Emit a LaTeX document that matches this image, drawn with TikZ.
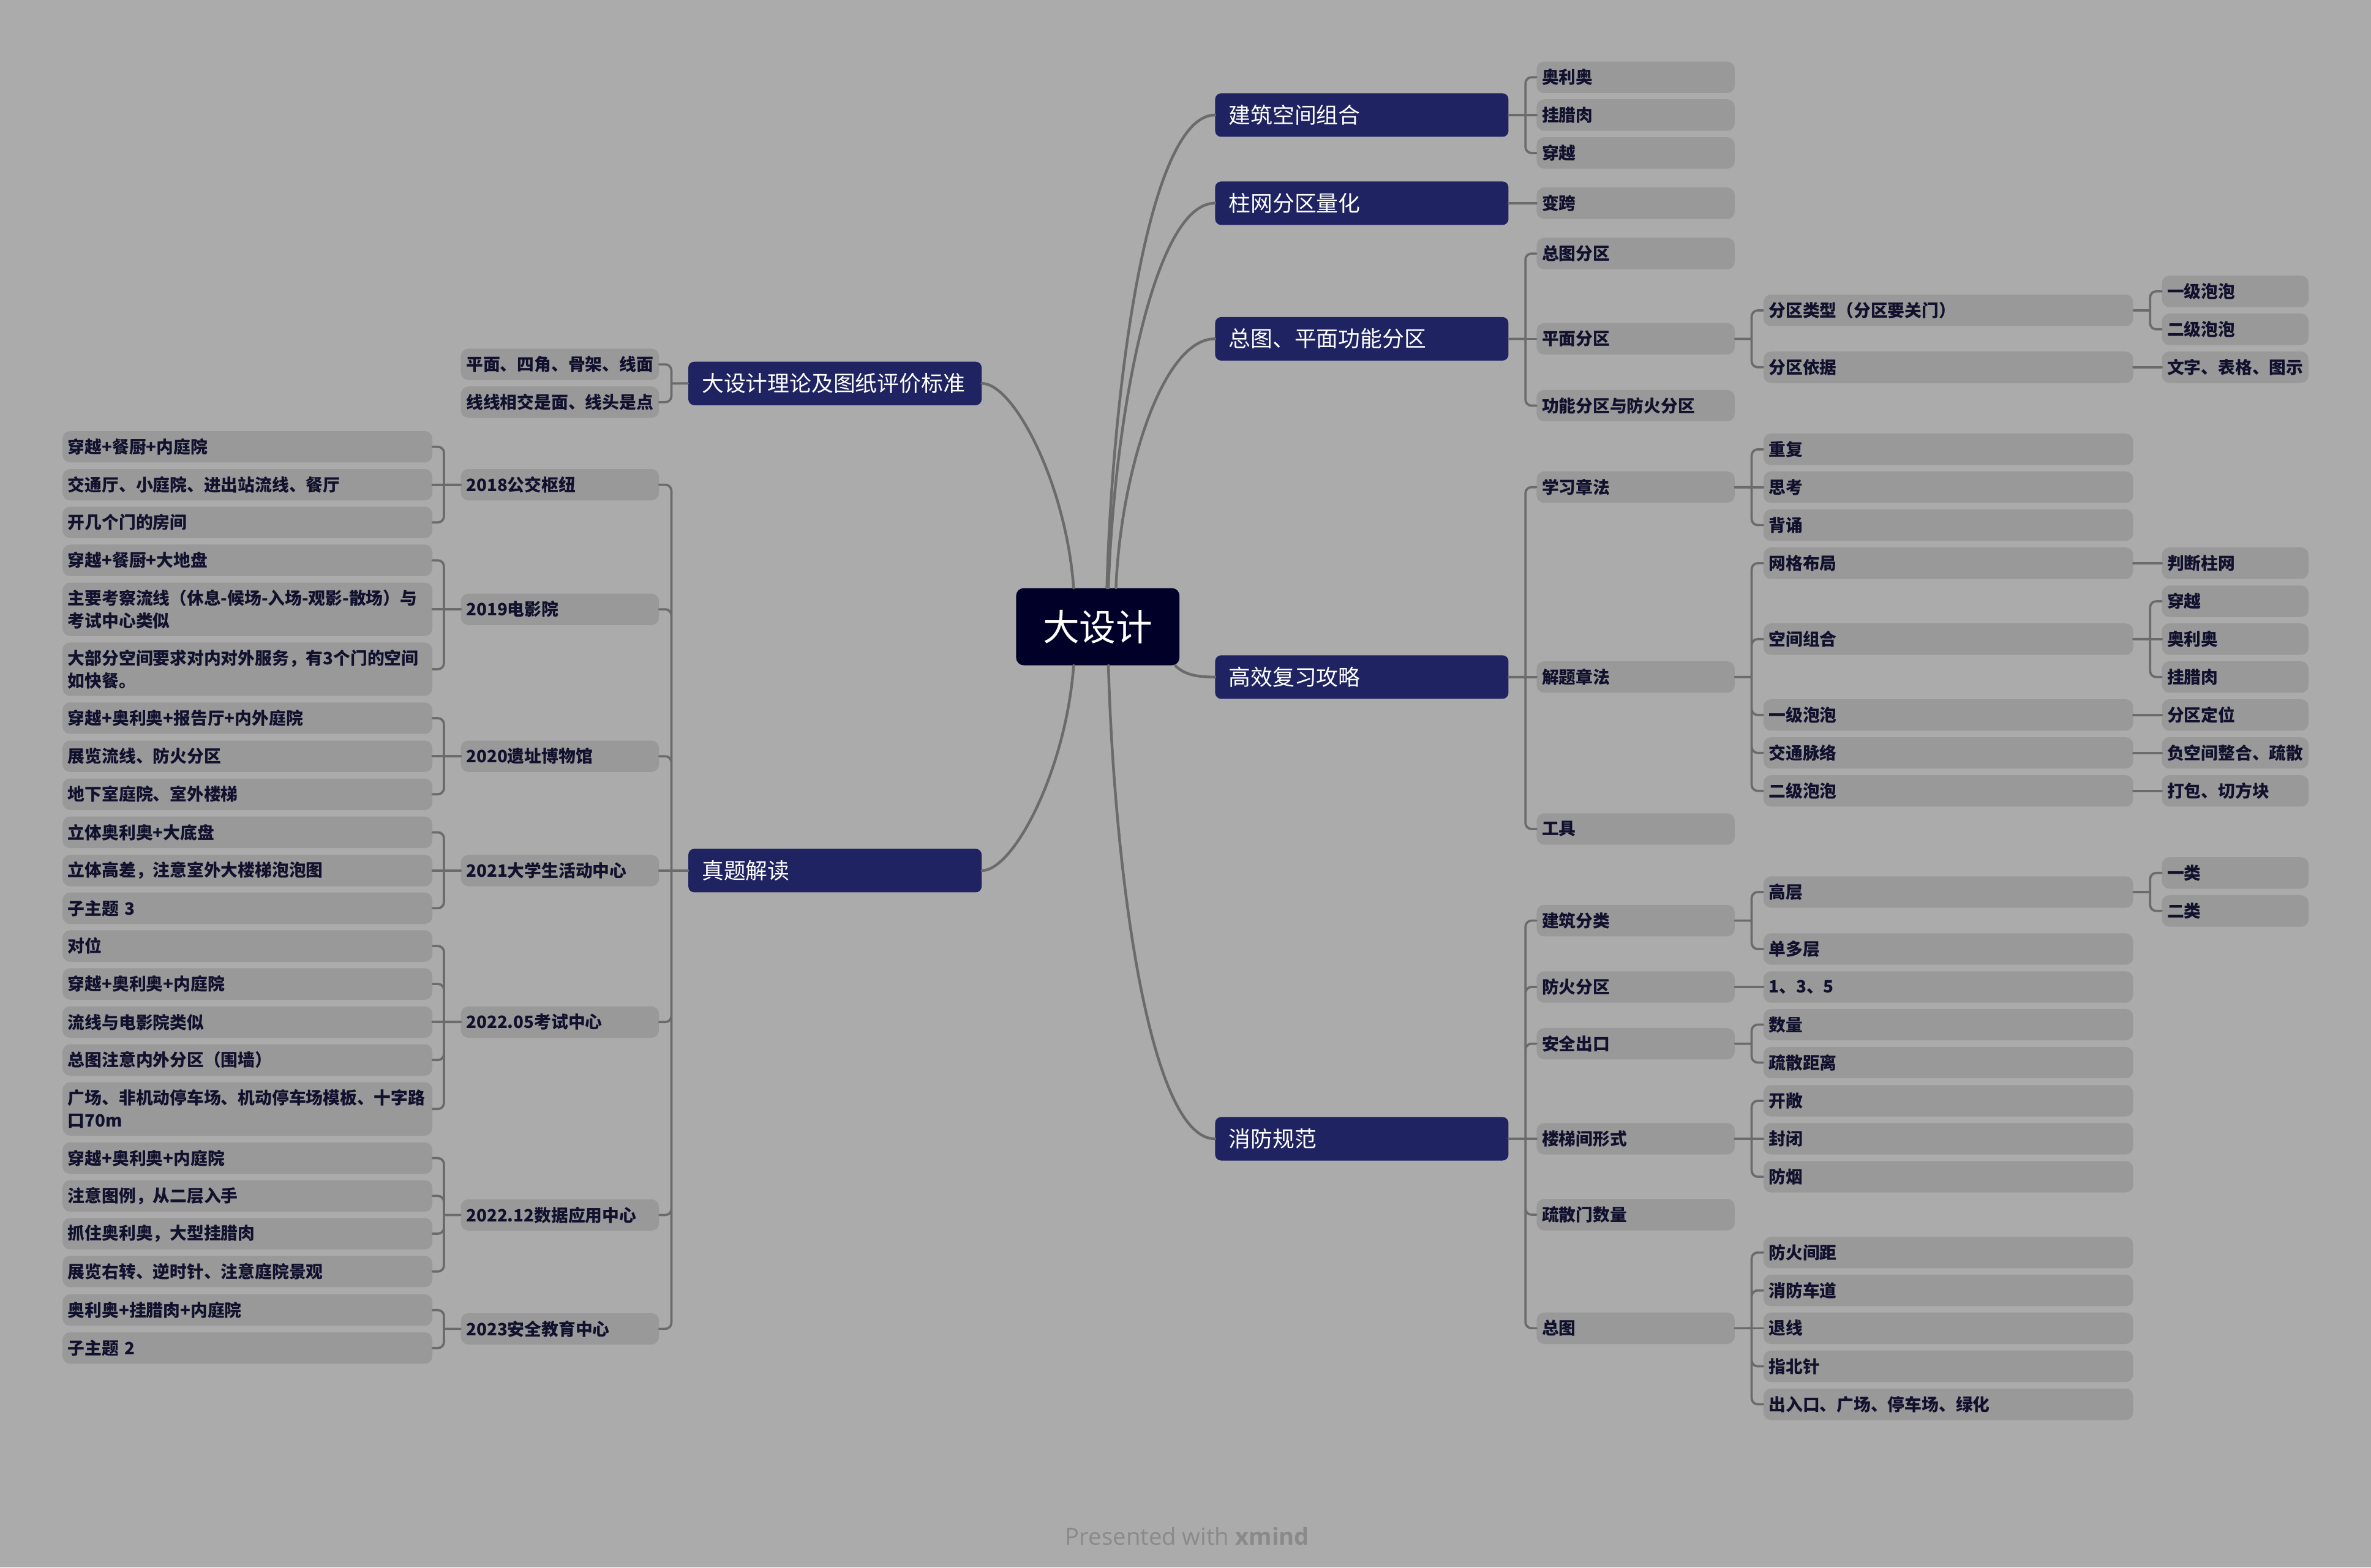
\documentclass[tikz,border=0pt]{standalone}
\usepackage{fontspec}
\setmainfont{Noto Sans CJK SC}
\newfontfamily\markfont{Open Sans}
\definecolor{mmBack}{HTML}{ABABAB}
\definecolor{mmBox}{HTML}{999999}
\definecolor{mmLine}{HTML}{6B6B6B}
\definecolor{mmTopic}{HTML}{1F2362}
\definecolor{mmRoot}{HTML}{000028}
\definecolor{mmInk}{HTML}{11112E}
\definecolor{mmMark}{HTML}{8A8A8A}
\tikzset{
 mind/.style={line cap=round,line join=round},
 root/.style={rectangle,rounded corners=5pt,fill=mmRoot,text=white,minimum width=108pt,minimum height=51pt,inner sep=0pt,font=\fontsize{24.2}{28}\selectfont},
 topic/.style={rectangle,rounded corners=4pt,fill=mmTopic,text=white,anchor=west,inner xsep=9pt,inner ysep=0pt,text width=176pt,minimum height=28.8pt,align=left,font=\fontsize{14.5}{17}\selectfont},
 leaf/.style={rectangle,rounded corners=5pt,fill=mmBox,text=mmInk,anchor=west,inner xsep=3.5pt,inner ysep=0pt,minimum height=20.8pt,align=left,font=\bfseries\fontsize{11.25}{15}\selectfont},
 leafB/.style={leaf,text width=124pt},
 leafC/.style={leaf,text width=237.5pt},
 leafD/.style={leaf,text width=90pt},
 tall/.style={minimum height=35.3pt},
 link/.style={draw=mmLine,line width=1.5pt,rounded corners=4pt},
 trunk/.style={draw=mmLine,line width=1.8pt},
 forkR/.style={link,to path={-- ++(11,0) (\tikztostart) ++(11,0) |- (\tikztotarget)}},
 forkL/.style={link,to path={-- ++(-11,0) (\tikztostart) ++(-11,0) |- (\tikztotarget)}},
 footer/.style={font=\markfont\fontsize{15.5}{18}\selectfont,text=mmMark,inner sep=0pt}
}

\begin{document}
\begin{tikzpicture}[mind,x=1pt,y=-1pt]
 \fill[mmBack] (0,0) rectangle (1568,1036.8);
 \node[root] (dsj) at (726,414.5) {大设计};
 \node[topic] (jz) at (803.4,76.1) {建筑空间组合};
 \node[topic] (zw) at (803.4,134.4) {柱网分区量化};
 \node[topic] (zp) at (803.4,224.1) {总图、平面功能分区};
 \node[topic] (gx) at (803.4,447.8) {高效复习攻略};
 \node[topic] (xf) at (803.4,753.2) {消防规范};
 \node[topic] (ll) at (455,253.6) {大设计理论及图纸评价标准};
 \node[topic] (zj) at (455,575.8) {真题解读};

 \node[leafB] (jz1) at (1016,51.1) {奥利奥};
 \node[leafB] (jz2) at (1016,76.1) {挂腊肉};
 \node[leafB] (jz3) at (1016,101.2) {穿越};
 \node[leafB] (zw1) at (1016,134.4) {变跨};
 \node[leafB] (zp1) at (1016,167.7) {总图分区};
 \node[leafB] (zp2) at (1016,224.1) {平面分区};
 \node[leafB] (zp3) at (1016,268.3) {功能分区与防火分区};
 \node[leafB] (gx1) at (1016,322.2) {学习章法};
 \node[leafB] (gx2) at (1016,447.8) {解题章法};
 \node[leafB] (gx3) at (1016,548.3) {工具};
 \node[leafB] (xf1) at (1016,608.9) {建筑分类};
 \node[leafB] (xf2) at (1016,652.8) {防火分区};
 \node[leafB] (xf3) at (1016,690.3) {安全出口};
 \node[leafB] (xf4) at (1016,753.2) {楼梯间形式};
 \node[leafB] (xf5) at (1016,803.4) {疏散门数量};
 \node[leafB] (xf6) at (1016,878.5) {总图};

 \node[leafC] (zp2a) at (1166,205.3) {分区类型（分区要关门）};
 \node[leafC] (zp2b) at (1166,242.9) {分区依据};
 \node[leafC] (gx1a) at (1166,297.2) {重复};
 \node[leafC] (gx1b) at (1166,322.2) {思考};
 \node[leafC] (gx1c) at (1166,347.3) {背诵};
 \node[leafC] (gx2a) at (1166,372.5) {网格布局};
 \node[leafC] (gx2b) at (1166,422.7) {空间组合};
 \node[leafC] (gx2c) at (1166,472.9) {一级泡泡};
 \node[leafC] (gx2d) at (1166,498) {交通脉络};
 \node[leafC] (gx2e) at (1166,523.1) {二级泡泡};
 \node[leafC] (xf1a) at (1166,590) {高层};
 \node[leafC] (xf1b) at (1166,627.7) {单多层};
 \node[leafC] (xf2a) at (1166,652.8) {1、3、5};
 \node[leafC] (xf3a) at (1166,677.7) {数量};
 \node[leafC] (xf3b) at (1166,702.8) {疏散距离};
 \node[leafC] (xf4a) at (1166,728.1) {开敞};
 \node[leafC] (xf4b) at (1166,753.2) {封闭};
 \node[leafC] (xf4c) at (1166,778.3) {防烟};
 \node[leafC] (xf6a) at (1166,828.4) {防火间距};
 \node[leafC] (xf6b) at (1166,853.5) {消防车道};
 \node[leafC] (xf6c) at (1166,878.5) {退线};
 \node[leafC] (xf6d) at (1166,903.7) {指北针};
 \node[leafC] (xf6e) at (1166,928.8) {出入口、广场、停车场、绿化};

 \node[leafD] (zp2a1) at (1429.5,192.7) {一级泡泡};
 \node[leafD] (zp2a2) at (1429.5,217.8) {二级泡泡};
 \node[leafD] (zp2b1) at (1429.5,242.9) {文字、表格、图示};
 \node[leafD] (gx2a1) at (1429.5,372.5) {判断柱网};
 \node[leafD] (gx2b1) at (1429.5,397.7) {穿越};
 \node[leafD] (gx2b2) at (1429.5,422.7) {奥利奥};
 \node[leafD] (gx2b3) at (1429.5,447.8) {挂腊肉};
 \node[leafD] (gx2c1) at (1429.5,472.9) {分区定位};
 \node[leafD] (gx2d1) at (1429.5,498) {负空间整合、疏散};
 \node[leafD] (gx2e1) at (1429.5,523.1) {打包、切方块};
 \node[leafD] (xf1a1) at (1429.5,577.4) {一类};
 \node[leafD] (xf1a2) at (1429.5,602.5) {二类};

 \node[leafB] (ll1) at (304.6,241) {平面、四角、骨架、线面};
 \node[leafB] (ll2) at (304.6,266) {线线相交是面、线头是点};
 \node[leafB] (zj1) at (304.6,320.6) {2018公交枢纽};
 \node[leafB] (zj2) at (304.6,403) {2019电影院};
 \node[leafB] (zj3) at (304.6,500.2) {2020遗址博物馆};
 \node[leafB] (zj4) at (304.6,575.8) {2021大学生活动中心};
 \node[leafB] (zj5) at (304.6,676) {2022.05考试中心};
 \node[leafB] (zj6) at (304.6,803.6) {2022.12数据应用中心};
 \node[leafB] (zj7) at (304.6,878.9) {2023安全教育中心};

 \node[leafC] (zj1a) at (41.2,295.5) {穿越+餐厨+内庭院};
 \node[leafC] (zj1b) at (41.2,320.6) {交通厅、小庭院、进出站流线、餐厅};
 \node[leafC] (zj1c) at (41.2,345.5) {开几个门的房间};
 \node[leafC] (zj2a) at (41.2,370.6) {穿越+餐厨+大地盘};
 \node[leafC,tall] (zj2b) at (41.2,403) {主要考察流线（休息-候场-入场-观影-散场）与\\考试中心类似};
 \node[leafC,tall] (zj2c) at (41.2,442.6) {大部分空间要求对内对外服务，有3个门的空间\\如快餐。};
 \node[leafC] (zj3a) at (41.2,475) {穿越+奥利奥+报告厅+内外庭院};
 \node[leafC] (zj3b) at (41.2,500.2) {展览流线、防火分区};
 \node[leafC] (zj3c) at (41.2,525.3) {地下室庭院、室外楼梯};
 \node[leafC] (zj4a) at (41.2,550.5) {立体奥利奥+大底盘};
 \node[leafC] (zj4b) at (41.2,575.8) {立体高差，注意室外大楼梯泡泡图};
 \node[leafC] (zj4c) at (41.2,600.7) {子主题 3};
 \node[leafC] (zj5a) at (41.2,625.7) {对位};
 \node[leafC] (zj5b) at (41.2,650.8) {穿越+奥利奥+内庭院};
 \node[leafC] (zj5c) at (41.2,676) {流线与电影院类似};
 \node[leafC] (zj5d) at (41.2,701.1) {总图注意内外分区（围墙）};
 \node[leafC,tall] (zj5e) at (41.2,733.5) {广场、非机动停车场、机动停车场模板、十字路\\口70m};
 \node[leafC] (zj6a) at (41.2,766) {穿越+奥利奥+内庭院};
 \node[leafC] (zj6b) at (41.2,791) {注意图例，从二层入手};
 \node[leafC] (zj6c) at (41.2,816) {抓住奥利奥，大型挂腊肉};
 \node[leafC] (zj6d) at (41.2,841) {展览右转、逆时针、注意庭院景观};
 \node[leafC] (zj7a) at (41.2,866.5) {奥利奥+挂腊肉+内庭院};
 \node[leafC] (zj7b) at (41.2,891.6) {子主题 2};

 \draw[trunk] ([xshift=6pt]dsj.north) .. controls +(4,-139) and +(-43,0) .. (jz.west);
 \draw[trunk] ([xshift=7pt]dsj.north) .. controls +(4,-115) and +(-40,0) .. (zw.west);
 \draw[trunk] ([xshift=12pt]dsj.north) .. controls +(3,-75) and +(-35,0) .. (zp.west);
 \draw[trunk] ([xshift=-3pt]dsj.south east) .. controls +(6,6) and +(-12,0) .. (gx.west);
 \draw[trunk] ([xshift=7pt]dsj.south) .. controls +(4,139) and +(-43,0) .. (xf.west);
 \draw[trunk] ([xshift=-16pt]dsj.north) .. controls +(-5,-69) and +(21,0) .. (ll.east);
 \draw[trunk] ([xshift=-16pt]dsj.south) .. controls +(-5,69) and +(21,0) .. (zj.east);

 \draw[forkR] (jz.east) to (jz1.west) (jz.east) to (jz3.west);
 \draw[link] (jz.east) -- (jz2.west);
 \draw[link] (zw.east) -- (zw1.west);
 \draw[forkR] (zp.east) to (zp1.west) (zp.east) to (zp3.west);
 \draw[link] (zp.east) -- (zp2.west);
 \draw[forkR] (zp2.east) to (zp2a.west) (zp2.east) to (zp2b.west);
 \draw[forkR] (zp2a.east) to (zp2a1.west) (zp2a.east) to (zp2a2.west);
 \draw[link] (zp2b.east) -- (zp2b1.west);
 \draw[forkR] (gx.east) to (gx1.west) (gx.east) to (gx3.west);
 \draw[link] (gx.east) -- (gx2.west);
 \draw[forkR] (gx1.east) to (gx1a.west) (gx1.east) to (gx1c.west);
 \draw[link] (gx1.east) -- (gx1b.west);
 \draw[forkR] (gx2.east) to (gx2a.west) (gx2.east) to (gx2b.west) (gx2.east) to (gx2c.west) (gx2.east) to (gx2d.west) (gx2.east) to (gx2e.west);
 \draw[link] (gx2a.east) -- (gx2a1.west);
 \draw[forkR] (gx2b.east) to (gx2b1.west) (gx2b.east) to (gx2b3.west);
 \draw[link] (gx2b.east) -- (gx2b2.west);
 \draw[link] (gx2c.east) -- (gx2c1.west);
 \draw[link] (gx2d.east) -- (gx2d1.west);
 \draw[link] (gx2e.east) -- (gx2e1.west);
 \draw[forkR] (xf.east) to (xf1.west) (xf.east) to (xf2.west) (xf.east) to (xf3.west) (xf.east) to (xf5.west) (xf.east) to (xf6.west);
 \draw[link] (xf.east) -- (xf4.west);
 \draw[forkR] (xf1.east) to (xf1a.west) (xf1.east) to (xf1b.west);
 \draw[forkR] (xf1a.east) to (xf1a1.west) (xf1a.east) to (xf1a2.west);
 \draw[link] (xf2.east) -- (xf2a.west);
 \draw[forkR] (xf3.east) to (xf3a.west) (xf3.east) to (xf3b.west);
 \draw[forkR] (xf4.east) to (xf4a.west) (xf4.east) to (xf4c.west);
 \draw[link] (xf4.east) -- (xf4b.west);
 \draw[forkR] (xf6.east) to (xf6a.west) (xf6.east) to (xf6b.west) (xf6.east) to (xf6d.west) (xf6.east) to (xf6e.west);
 \draw[link] (xf6.east) -- (xf6c.west);

 \draw[forkL] (ll.west) to (ll1.east) (ll.west) to (ll2.east);
 \draw[forkL] (zj.west) to (zj1.east) (zj.west) to (zj2.east) (zj.west) to (zj3.east) (zj.west) to (zj5.east) (zj.west) to (zj6.east) (zj.west) to (zj7.east);
 \draw[link] (zj.west) -- (zj4.east);
 \draw[forkL] (zj1.west) to (zj1a.east) (zj1.west) to (zj1c.east);
 \draw[link] (zj1.west) -- (zj1b.east);
 \draw[forkL] (zj2.west) to (zj2a.east) (zj2.west) to (zj2c.east);
 \draw[link] (zj2.west) -- (zj2b.east);
 \draw[forkL] (zj3.west) to (zj3a.east) (zj3.west) to (zj3c.east);
 \draw[link] (zj3.west) -- (zj3b.east);
 \draw[forkL] (zj4.west) to (zj4a.east) (zj4.west) to (zj4c.east);
 \draw[link] (zj4.west) -- (zj4b.east);
 \draw[forkL] (zj5.west) to (zj5a.east) (zj5.west) to (zj5b.east) (zj5.west) to (zj5d.east) (zj5.west) to (zj5e.east);
 \draw[link] (zj5.west) -- (zj5c.east);
 \draw[forkL] (zj6.west) to (zj6a.east) (zj6.west) to (zj6b.east) (zj6.west) to (zj6c.east) (zj6.west) to (zj6d.east);
 \draw[forkL] (zj7.west) to (zj7a.east) (zj7.west) to (zj7b.east);

 \node[footer] (brand) at (785.2,1016) {Presented with \textbf{xmind}};
\end{tikzpicture}
\end{document}
